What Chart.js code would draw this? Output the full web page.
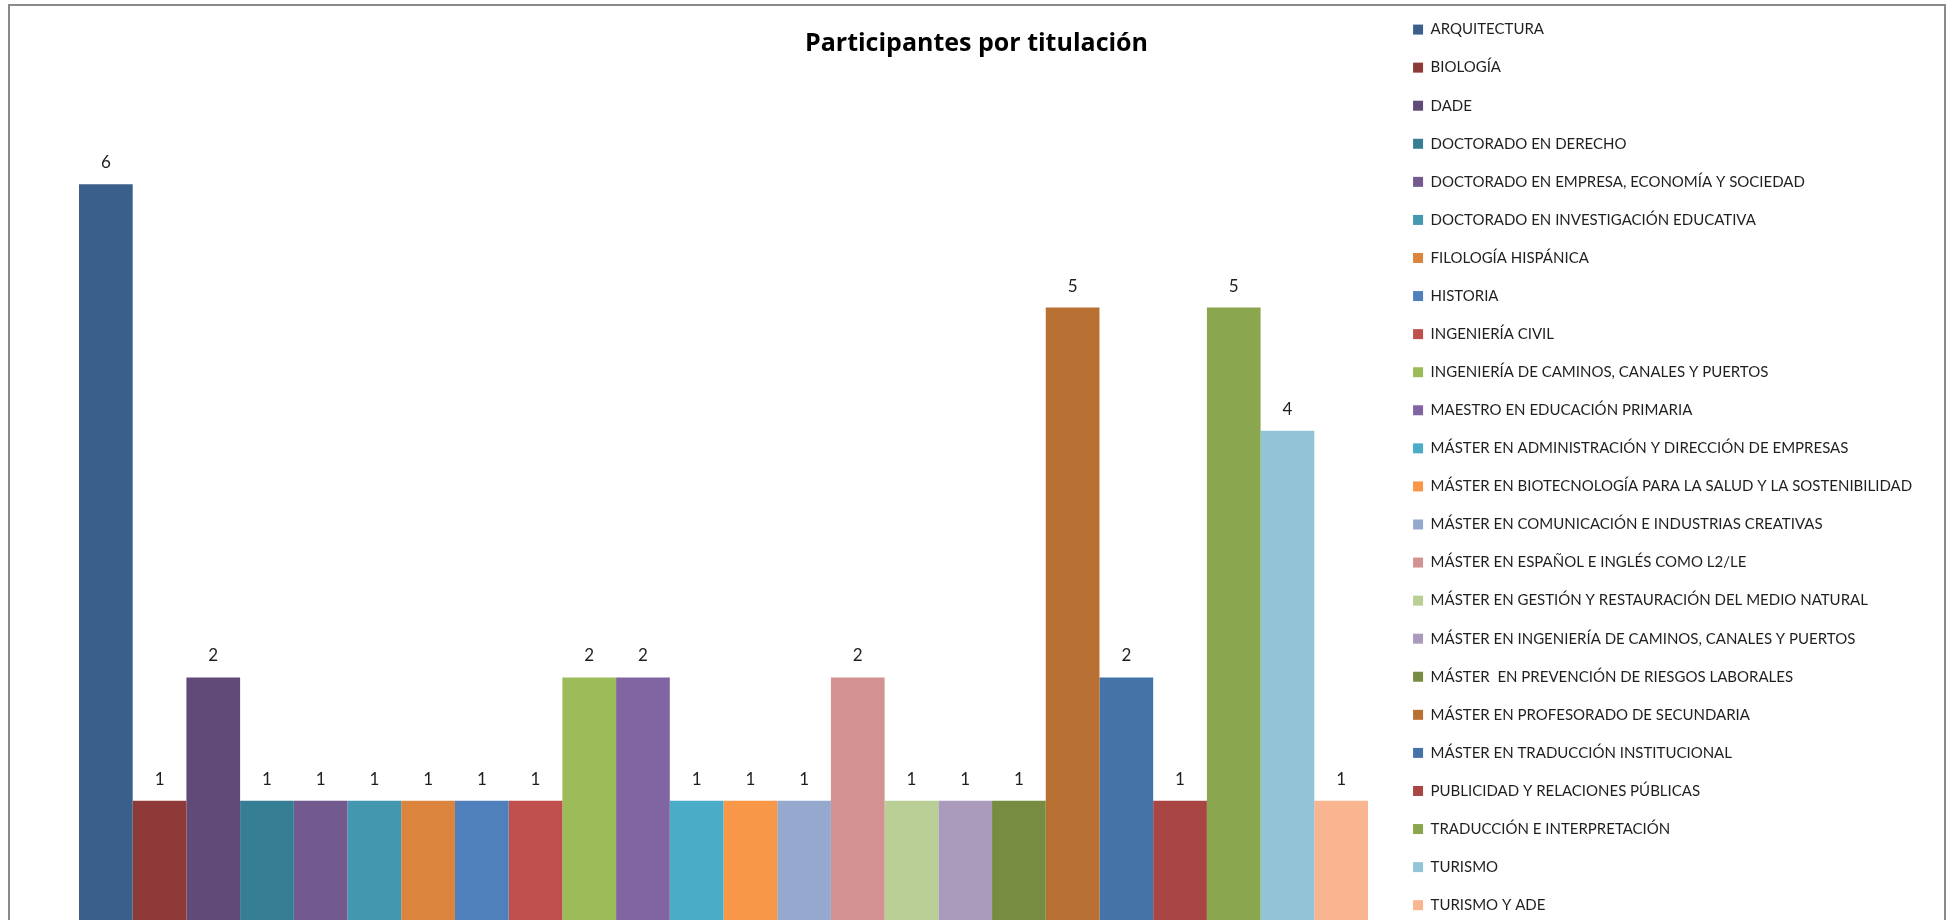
<!DOCTYPE html>
<html>
<head>
<meta charset="utf-8">
<title>Participantes por titulación</title>
<script src="https://cdn.jsdelivr.net/npm/chart.js@4.4.1/dist/chart.umd.min.js"></script>
<style>
  html, body { margin: 0; padding: 0; overflow: hidden; background: #fff; }
  /* marco gris del gráfico (sin borde inferior, queda fuera de la captura) */
  .marco { position: absolute; left: 8px; top: 4px; width: 1938px; height: 1000px;
           border: 2px solid #8a8a8a; border-bottom: none; box-sizing: border-box; }
  .lienzo { position: absolute; left: 0; top: -1px; width: 1953px; height: 950px; }
</style>
</head>
<body>
<div class="marco"></div>
<div class="lienzo"><canvas id="grafico"></canvas></div>
<script>
// datos
const titulaciones = [
  'ARQUITECTURA',
  'BIOLOGÍA',
  'DADE',
  'DOCTORADO EN DERECHO',
  'DOCTORADO EN EMPRESA, ECONOMÍA Y SOCIEDAD',
  'DOCTORADO EN INVESTIGACIÓN EDUCATIVA',
  'FILOLOGÍA HISPÁNICA',
  'HISTORIA',
  'INGENIERÍA CIVIL',
  'INGENIERÍA DE CAMINOS, CANALES Y PUERTOS',
  'MAESTRO EN EDUCACIÓN PRIMARIA',
  'MÁSTER EN ADMINISTRACIÓN Y DIRECCIÓN DE EMPRESAS',
  'MÁSTER EN BIOTECNOLOGÍA PARA LA SALUD Y LA SOSTENIBILIDAD',
  'MÁSTER EN COMUNICACIÓN E INDUSTRIAS CREATIVAS',
  'MÁSTER EN ESPAÑOL E INGLÉS COMO L2/LE',
  'MÁSTER EN GESTIÓN Y RESTAURACIÓN DEL MEDIO NATURAL',
  'MÁSTER EN INGENIERÍA DE CAMINOS, CANALES Y PUERTOS',
  'MÁSTER  EN PREVENCIÓN DE RIESGOS LABORALES',
  'MÁSTER EN PROFESORADO DE SECUNDARIA',
  'MÁSTER EN TRADUCCIÓN INSTITUCIONAL',
  'PUBLICIDAD Y RELACIONES PÚBLICAS',
  'TRADUCCIÓN E INTERPRETACIÓN',
  'TURISMO',
  'TURISMO Y ADE'
];
const participantes = [6, 1, 2, 1, 1, 1, 1, 1, 1, 2, 2, 1, 1, 1, 2, 1, 1, 1, 5, 2, 1, 5, 4, 1];
const colores = [
  '#3b5f8b', '#8e3a38', '#5f4a78', '#367e93', '#725a8e', '#4398b0',
  '#db843e', '#4f80bc', '#c0504e', '#9cbb59', '#8165a2', '#4aacc6',
  '#f79747', '#95a9cf', '#d29292', '#b9cf96', '#aa9bbd', '#778c40',
  '#b97033', '#4473a7', '#a94644', '#8aa64e', '#93c4d5', '#f9b590'
];
const categoria = [''];
const ejeMax = 7;

const fuente = 'Lato';
const tamLeyenda = 15;
const padLeyenda = 23.07;
const cajaLeyenda = 10;

// ancho de la leyenda para dejarla donde está en el original
const medir = document.createElement('canvas').getContext('2d');
medir.font = tamLeyenda + 'px ' + fuente;
const anchoTexto = Math.max(...titulaciones.map((t) => medir.measureText(t).width));
const anchoLeyenda = padLeyenda + cajaLeyenda + tamLeyenda / 2 + anchoTexto + 10;
const padLado = Math.max(0, 1953 - 1390 - anchoLeyenda);
// mismo margen a los dos lados para que el título quede centrado
const anchoEjeY = Math.max(0, 57 - padLado);

// números encima de cada barra
const etiquetasValor = {
  id: 'etiquetasValor',
  afterDatasetsDraw(chart) {
    const ctx = chart.ctx;
    ctx.save();
    ctx.font = '17px ' + fuente;
    ctx.fillStyle = '#1f1f1f';
    ctx.textAlign = 'center';
    ctx.textBaseline = 'alphabetic';
    chart.data.datasets.forEach((ds, i) => {
      chart.getDatasetMeta(i).data.forEach((barra, j) => {
        ctx.fillText(ds.data[j], barra.x, barra.y - 16);
      });
    });
    ctx.restore();
  }
};

new Chart(document.getElementById('grafico'), {
  type: 'bar',
  data: {
    labels: categoria,
    datasets: titulaciones.map((t, i) => ({
      label: t,
      data: [participantes[i]],
      backgroundColor: colores[i],
      borderWidth: 0,
      categoryPercentage: 0.967,
      barPercentage: 1
    }))
  },
  options: {
    responsive: true,
    maintainAspectRatio: false,
    animation: false,
    layout: { padding: { left: padLado, right: padLado, top: 0, bottom: 0 } },
    scales: {
      x: {
        display: true,
        grid: { display: false },
        border: { display: false },
        ticks: { display: false },
        afterFit: (eje) => { eje.height = 25; }
      },
      y: {
        display: true,
        min: 0,
        max: ejeMax,
        grid: { display: false },
        border: { display: false },
        ticks: { display: false },
        afterFit: (eje) => { eje.width = anchoEjeY; }
      }
    },
    plugins: {
      title: {
        display: true,
        text: 'Participantes por titulación',
        color: '#000',
        font: { family: 'Open Sans', size: 25, weight: 'bold', lineHeight: 1.2 },
        padding: { top: 29.5, bottom: 2.5 }
      },
      legend: {
        position: 'right',
        align: 'start',
        maxWidth: 620,
        labels: {
          boxWidth: cajaLeyenda,
          boxHeight: cajaLeyenda,
          padding: padLeyenda,
          color: '#1f1f1f',
          font: { family: fuente, size: tamLeyenda }
        }
      },
      tooltip: { enabled: false }
    }
  },
  plugins: [etiquetasValor]
});
</script>
</body>
</html>
